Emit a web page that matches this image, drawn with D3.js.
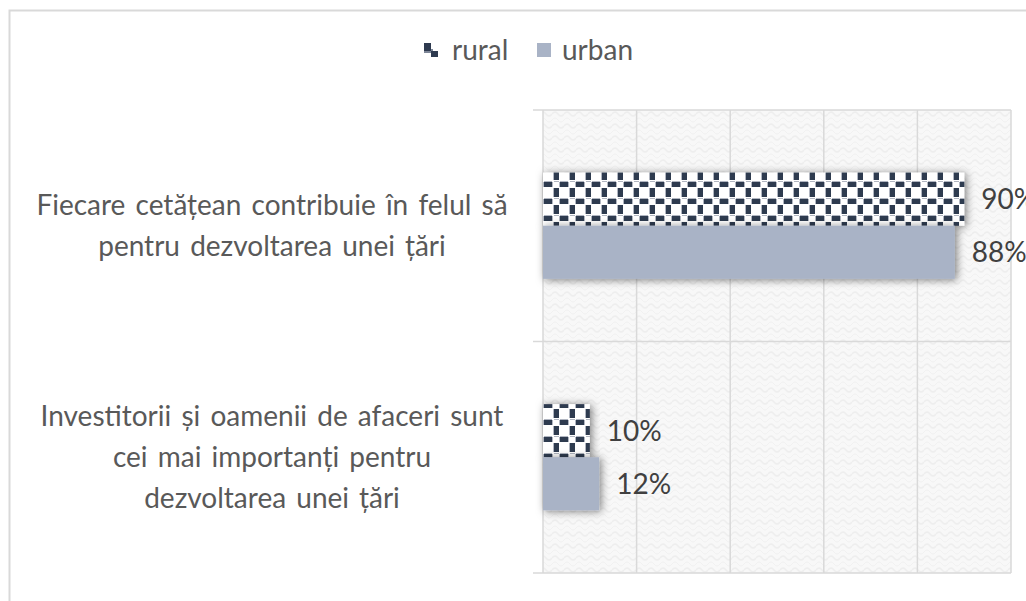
<!DOCTYPE html>
<html>
<head>
<meta charset="utf-8">
<script src="https://cdn.jsdelivr.net/npm/d3@7.9.0/dist/d3.min.js"></script>
<style>
  html, body { margin: 0; padding: 0; background: #fff; }
  svg { display: block; font-family: Lato, 'Open Sans', sans-serif; }
</style>
</head>
<body>
<svg id="chart" width="1026" height="601"></svg>
<script>
const categories = [
  ['Fiecare cetățean contribuie în felul să', 'pentru dezvoltarea unei țări'],
  ['Investitorii și oamenii de afaceri sunt', 'cei mai importanți pentru', 'dezvoltarea unei țări']
];
const seriesNames = ['rural', 'urban'];
const rural = [0.90, 0.10];
const urban = [0.88, 0.12];
const xTicks = [0, 0.2, 0.4, 0.6, 0.8, 1];

const svg = d3.select('#chart');
const defs = svg.append('defs');
const dark = '#2e3a4f';
const mid = '#7d8697';

// weave/checker pattern for rural
const checker = defs.append('pattern')
  .attr('id', 'checker').attr('patternUnits', 'userSpaceOnUse')
  .attr('x', 543).attr('y', 171)
  .attr('width', 16).attr('height', 17);
checker.append('rect').attr('width', 16).attr('height', 17).attr('fill', '#fff');
[[11, 0, 5, 9], [1, 11, 8, 5]].forEach(([rx, ry, w, h]) => {
  checker.append('rect').attr('x', rx).attr('y', ry).attr('width', w).attr('height', h).attr('fill', dark);
});
[[10, 0, 1, 9], [16, 0, 0, 0], [0, 11, 1, 5], [9, 11, 1, 5], [11, 10, 5, 1], [1, 10, 8, 1]].forEach(([rx, ry, w, h]) => {
  checker.append('rect').attr('x', rx).attr('y', ry).attr('width', w).attr('height', h).attr('fill', mid).attr('opacity', 0.6);
});

// light texture for plot background
const tex = defs.append('pattern')
  .attr('id', 'tex').attr('patternUnits', 'userSpaceOnUse')
  .attr('width', 12).attr('height', 12);
tex.append('rect').attr('width', 12).attr('height', 12).attr('fill', '#f8f8f8');
tex.append('path').attr('d', 'M0,6 Q3,2 6,6 T12,6').attr('fill', 'none').attr('stroke', '#eeeeee').attr('stroke-width', 1.5);
tex.append('path').attr('d', 'M0,0 Q3,-4 6,0 T12,0 M0,12 Q3,8 6,12 T12,12').attr('fill', 'none').attr('stroke', '#f1f1f1').attr('stroke-width', 1);

const shadow = defs.append('filter').attr('id', 'shadow')
  .attr('x', '-20%').attr('y', '-50%').attr('width', '140%').attr('height', '200%');
shadow.append('feDropShadow').attr('dx', 2).attr('dy', 1).attr('stdDeviation', 4)
  .attr('flood-color', '#000').attr('flood-opacity', 0.5);

// outer chart border
svg.append('rect').attr('x', 9.5).attr('y', 10.5).attr('width', 1040).attr('height', 620)
  .attr('fill', '#fff').attr('stroke', '#d9d9d9').attr('stroke-width', 2);

const plot = { left: 543, right: 1011, top: 110, bottom: 573 };
const x = d3.scaleLinear().domain([0, 1]).range([plot.left, plot.right]);
const y0 = d3.scaleBand().domain(d3.range(categories.length)).range([plot.top, plot.bottom]).padding(0);
const y1 = d3.scaleBand().domain(seriesNames).range([0, y0.bandwidth()]).paddingInner(0).paddingOuter(1.18);

// plot background
svg.append('rect').attr('x', plot.left).attr('y', plot.top)
  .attr('width', plot.right - plot.left).attr('height', plot.bottom - plot.top)
  .attr('fill', 'url(#tex)');

// vertical gridlines
svg.append('g').selectAll('line').data(xTicks).join('line')
  .attr('x1', d => x(d)).attr('x2', d => x(d))
  .attr('y1', plot.top).attr('y2', plot.bottom)
  .attr('stroke', '#d9d9d9').attr('stroke-width', 1.5);

// category boundaries / tick marks
const bounds = [plot.top, ...d3.range(categories.length).map(i => y0(i) + y0.bandwidth())];
svg.append('g').selectAll('line').data(bounds).join('line')
  .attr('x1', plot.left - 10).attr('x2', plot.right)
  .attr('y1', d => d).attr('y2', d => d)
  .attr('stroke', '#d9d9d9').attr('stroke-width', 1.5);

// bars
const rows = [];
categories.forEach((c, i) => {
  rows.push({ cat: i, s: 'rural', v: rural[i] });
  rows.push({ cat: i, s: 'urban', v: urban[i] });
});
svg.append('g').selectAll('rect').data(rows).join('rect')
  .attr('x', x(0))
  .attr('y', d => y0(d.cat) + y1(d.s))
  .attr('width', d => x(d.v) - x(0))
  .attr('height', y1.bandwidth())
  .attr('fill', d => d.s === 'rural' ? 'url(#checker)' : '#a9b3c6')
  .attr('filter', 'url(#shadow)');

// data labels
svg.append('g').selectAll('text').data(rows).join('text')
  .attr('x', d => x(d.v) + 17)
  .attr('y', d => y0(d.cat) + y1(d.s) + y1.bandwidth() / 2)
  .attr('dy', '0.35em')
  .attr('font-size', 28).attr('fill', '#404040')
  .text(d => Math.round(d.v * 100) + '%');

// category labels
const lineH = 41;
const catG = svg.append('g').selectAll('text').data(categories).join('text')
  .attr('text-anchor', 'middle').attr('font-size', 28).attr('fill', '#595959')
  .attr('word-spacing', 3);
catG.each(function (lines, i) {
  const cy = y0(i) + y0.bandwidth() / 2;
  const start = cy - (lines.length - 1) * lineH / 2;
  d3.select(this).selectAll('tspan').data(lines).join('tspan')
    .attr('x', 272).attr('y', (d, j) => start + j * lineH).attr('dy', '0.35em')
    .text(d => d);
});

// legend
const legend = svg.append('g');
// rural icon: two offset dark squares
legend.append('rect').attr('x', 424).attr('y', 43).attr('width', 14).attr('height', 14).attr('fill', '#fff');
legend.append('rect').attr('x', 424).attr('y', 43).attr('width', 7).attr('height', 8).attr('fill', dark);
legend.append('rect').attr('x', 431).attr('y', 51).attr('width', 7).attr('height', 6).attr('fill', dark);
legend.append('rect').attr('x', 424).attr('y', 51).attr('width', 7).attr('height', 2).attr('fill', mid);
legend.append('rect').attr('x', 431).attr('y', 49).attr('width', 2).attr('height', 2).attr('fill', mid);
legend.append('rect').attr('x', 537).attr('y', 43).attr('width', 14).attr('height', 14).attr('fill', '#a9b3c6');
legend.selectAll('text').data([{ name: 'rural', tx: 452 }, { name: 'urban', tx: 562 }]).join('text')
  .attr('x', d => d.tx).attr('y', 50).attr('dy', '0.35em')
  .attr('font-size', 28).attr('fill', '#595959')
  .text(d => d.name);
</script>
</body>
</html>
